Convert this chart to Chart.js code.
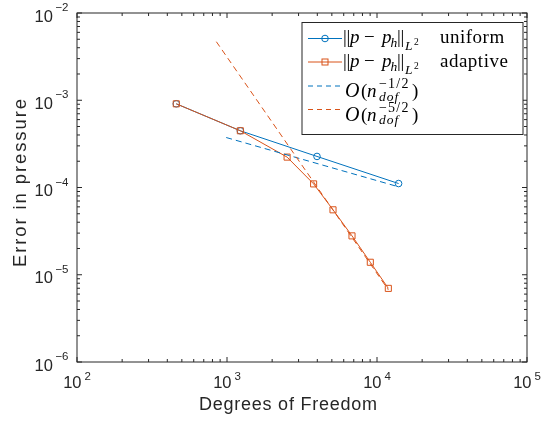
<!DOCTYPE html>
<html><head><meta charset="utf-8">
<script src="https://cdn.jsdelivr.net/npm/chart.js@4/dist/chart.umd.min.js"></script>
<style>html,body{margin:0;padding:0;background:#fff;}canvas{display:block;}</style>
</head><body>
<canvas id="c" width="548" height="421"></canvas>
<script>
// ---- data ----
const uniformDofs   = [459, 1227, 3981, 13930];
const uniformErr    = [9.1e-4, 4.47e-4, 2.27e-4, 1.11e-4];
const adaptiveDofs  = [459, 1227, 2516, 3779, 5090, 6813, 9025, 11900];
const adaptiveErr   = [9.1e-4, 4.47e-4, 2.23e-4, 1.10e-4, 5.55e-5, 2.79e-5, 1.39e-5, 6.98e-6];
const refHalfDofs   = [988, 13600];
const refHalfErr    = [3.74e-4, 1.03e-4];
const refFiveHalfDofs = [849, 11900];
const refFiveHalfErr  = [4.69e-3, 6.71e-6];
const xTickExponents = [2, 3, 4, 5];
const yTickExponents = [-6, -5, -4, -3, -2];
const xAxisTitle = 'Degrees of Freedom';
const yAxisTitle = 'Error in pressure';
const legendWords = ['uniform', 'adaptive'];
const refExponents = ['\u22121/2', '\u22125/2'];

const BLUE = '#0072BD', ORANGE = '#D95319', AX = '#262626';
const SANS = "'Liberation Sans', Arial, sans-serif";
const SERIF = "'Liberation Serif', 'Times New Roman', serif";

const pts = (xs, ys) => xs.map((x, i) => ({x, y: ys[i]}));
const expText = (e) => String(e).replace('-', '\u2212');

function decadesBetween(min, max){ const out=[]; for(let e=Math.round(Math.log10(min)); e<Math.round(Math.log10(max)); e++){ for(let m=1;m<=9;m++) out.push({v:m*Math.pow(10,e), major:m===1}); } out.push({v:max, major:true}); return out; }

function textSpaced(ctx, txt, x, y, target){
  ctx.letterSpacing = '0px';
  const w = ctx.measureText(txt).width;
  const sp = target ? (target - w) / Math.max(1, txt.length - 1) : 0;
  ctx.letterSpacing = sp + 'px';
  ctx.fillText(txt, x + sp / 2, y);
  ctx.letterSpacing = '0px';
}

const axesPlugin = {
  id: 'matlabAxes',
  afterDraw(chart){
    const ctx = chart.ctx, a = chart.chartArea, xs = chart.scales.x, ys = chart.scales.y;
    ctx.save();
    // frame
    ctx.strokeStyle = AX; ctx.lineWidth = 1;
    ctx.strokeRect(a.left, a.top, a.right - a.left, a.bottom - a.top);
    // ticks (inward, all sides)
    ctx.beginPath();
    for (const t of decadesBetween(xs.min, xs.max)){
      const px = xs.getPixelForValue(t.v), L = t.major ? 5 : 3;
      ctx.moveTo(px, a.bottom); ctx.lineTo(px, a.bottom - L);
      ctx.moveTo(px, a.top); ctx.lineTo(px, a.top + L);
    }
    for (const t of decadesBetween(ys.min, ys.max)){
      const py = ys.getPixelForValue(t.v), L = t.major ? 5 : 3;
      ctx.moveTo(a.left, py); ctx.lineTo(a.left + L, py);
      ctx.moveTo(a.right, py); ctx.lineTo(a.right - L, py);
    }
    ctx.stroke();
    // tick labels
    ctx.fillStyle = AX; ctx.textBaseline = 'alphabetic'; ctx.textAlign = 'left';
    const big = '16.5px ' + SANS, small = '11.5px ' + SANS;
    for (const e of xTickExponents){
      const px = xs.getPixelForValue(Math.pow(10, e));
      const es = expText(e);
      ctx.font = big; const tw = ctx.measureText('10').width;
      ctx.font = small; const ew = ctx.measureText(es).width;
      const gap = 3, x0 = px - (tw + gap + ew) / 2;
      ctx.font = big; ctx.fillText('10', x0, a.bottom + 26);
      ctx.font = small; ctx.fillText(es, x0 + tw + gap, a.bottom + 18);
    }
    for (const e of yTickExponents){
      const py = ys.getPixelForValue(Math.pow(10, e));
      const es = expText(e);
      ctx.font = small; const ew = ctx.measureText(es).width;
      ctx.font = big; const tw = ctx.measureText('10').width;
      const right = a.left - 8.5, gap = 2.5;
      ctx.font = small; ctx.fillText(es, right - ew, py - 2);
      ctx.font = big; ctx.fillText('10', right - ew - gap - tw, py + 8.5);
    }
    // axis titles
    ctx.font = '18px ' + SANS; ctx.textAlign = 'center';
    textSpaced(ctx, xAxisTitle, 288, 410, 178);
    ctx.save();
    ctx.font = '18.5px ' + SANS;
    ctx.translate(26, 183); ctx.rotate(-Math.PI / 2);
    textSpaced(ctx, yAxisTitle, 0, 0, 168);
    ctx.restore();
    // legend
    drawLegend(ctx);
    ctx.restore();
  }
};

function drawParts(ctx, x0, base, parts){
  ctx.textAlign = 'left'; ctx.fillStyle = '#000';
  for (const p of parts){
    ctx.font = p.f;
    ctx.letterSpacing = (p.ls || 0) + 'px';
    ctx.fillText(p.t, x0 + p.dx, base + (p.dy || 0));
  }
  ctx.letterSpacing = '0px';
}

function drawLegend(ctx){
  const bx = 302, by = 22.5, bw = 221, bh = 112;
  ctx.fillStyle = '#fff'; ctx.fillRect(bx, by, bw, bh);
  ctx.strokeStyle = AX; ctx.lineWidth = 1; ctx.setLineDash([]);
  ctx.strokeRect(bx, by, bw, bh);
  const rows = [38.5, 62, 86, 109.5];
  const colors = [BLUE, ORANGE, BLUE, ORANGE];
  const L0 = 308, L1 = 342, LM = 325;
  rows.forEach((ry, i) => {
    ctx.strokeStyle = colors[i]; ctx.lineWidth = 1;
    ctx.setLineDash(i < 2 ? [] : [5, 4]);
    ctx.beginPath(); ctx.moveTo(L0, ry); ctx.lineTo(L1, ry); ctx.stroke();
    ctx.setLineDash([]);
    if (i === 0){ ctx.beginPath(); ctx.arc(LM, ry, 3.3, 0, 2*Math.PI); ctx.stroke(); }
    if (i === 1){ ctx.strokeRect(LM - 3, ry - 3, 6, 6); }
  });
  const M = '19px ' + SERIF, I = 'italic 19px ' + SERIF, S = 'italic 13.5px ' + SERIF, T = '9.5px ' + SERIF, SR = '14px ' + SERIF;
  const normParts = (word) => [
    {t:'|', f:M, dx:0}, {t:'|', f:M, dx:3.5},
    {t:'p', f:I, dx:7},
    {t:'\u2212', f:M, dx:21},
    {t:'p', f:I, dx:39},
    {t:'h', f:S, dx:47.5, dy:4},
    {t:'|', f:M, dx:54}, {t:'|', f:M, dx:57.5},
    {t:'L', f:S, dx:62, dy:7},
    {t:'2', f:T, dx:71, dy:2},
    {t:word, f:M, dx:97, ls:0.5}
  ];
  drawParts(ctx, 343, rows[0] + 4.5, normParts(legendWords[0]));
  drawParts(ctx, 343, rows[1] + 4.5, normParts(legendWords[1]));
  const refParts = (ex) => [
    {t:'O', f:'italic 20px ' + SERIF, dx:0},
    {t:'(', f:M, dx:16},
    {t:'n', f:I, dx:22},
    {t:ex, f:SR, dx:34, dy:-9, ls:1.2},
    {t:'dof', f:S, dx:34, dy:3.5, ls:1},
    {t:')', f:M, dx:67}
  ];
  drawParts(ctx, 345, rows[2] + 11, refParts(refExponents[0]));
  drawParts(ctx, 345, rows[3] + 11, refParts(refExponents[1]));
}

new Chart(document.getElementById('c').getContext('2d'), {
  type: 'line',
  data: { datasets: [
    { label: 'uniform', data: pts(uniformDofs, uniformErr), borderColor: BLUE, backgroundColor: 'rgba(0,0,0,0)',
      borderWidth: 1, pointStyle: 'circle', pointRadius: 3.3, pointBorderWidth: 1, pointBorderColor: BLUE, order: 4 },
    { label: 'adaptive', data: pts(adaptiveDofs, adaptiveErr), borderColor: ORANGE, backgroundColor: 'rgba(0,0,0,0)',
      borderWidth: 1, pointStyle: 'rect', pointRadius: 4.3, pointBorderWidth: 1, pointBorderColor: ORANGE, order: 3 },
    { label: 'O(n^-1/2)', data: pts(refHalfDofs, refHalfErr), borderColor: BLUE, borderDash: [6, 4],
      borderWidth: 1, pointRadius: 0, order: 2 },
    { label: 'O(n^-5/2)', data: pts(refFiveHalfDofs, refFiveHalfErr), borderColor: ORANGE, borderDash: [6, 4],
      borderWidth: 1, pointRadius: 0, order: 1 }
  ]},
  options: {
    responsive: false, animation: false, devicePixelRatio: 1,
    layout: { padding: { left: 77, top: 13, right: 21, bottom: 59 } },
    plugins: { legend: { display: false }, tooltip: { enabled: false } },
    elements: { line: { tension: 0, fill: false } },
    scales: {
      x: { type: 'logarithmic', min: 100, max: 100000, display: false },
      y: { type: 'logarithmic', min: 1e-6, max: 1e-2, display: false }
    }
  },
  plugins: [axesPlugin]
});
</script>
</body></html>
